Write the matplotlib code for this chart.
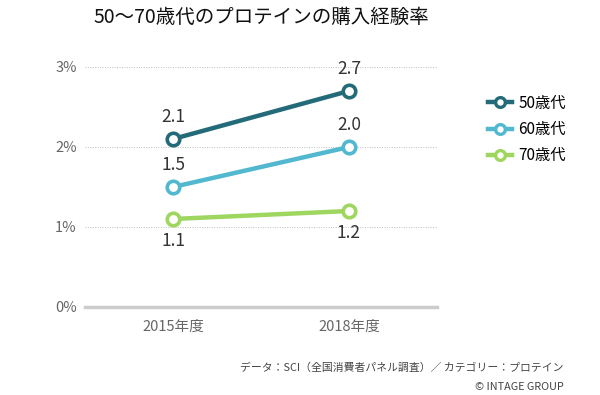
import matplotlib.pyplot as plt
from matplotlib.lines import Line2D

plt.rcParams['font.family'] = ['Noto Sans CJK JP', 'DejaVu Sans']

years = ['2015年度', '2018年度']
series_names = ['50歳代', '60歳代', '70歳代']
rate_50s = [2.1, 2.7]
rate_60s = [1.5, 2.0]
rate_70s = [1.1, 1.2]
colors = ['#236b78', '#52b8d0', '#9ed660']

fig = plt.figure(figsize=(6, 3.95), dpi=100)
ax = fig.add_axes([0.1417, 0.2228, 0.5866, 0.6076])

x = [0, 1]
all_rates = [rate_50s, rate_60s, rate_70s]
for name, vals, c in zip(series_names, all_rates, colors):
    ax.plot(x, vals, color=c, lw=3.2, marker='o', ms=9, mfc='white',
            mec=c, mew=2.6, zorder=3, label=name)

# value labels: above for 50s/60s, below for 70s
for vals, above in [(rate_50s, True), (rate_60s, True), (rate_70s, False)]:
    for xi, v in zip(x, vals):
        off = 16 if above else -16
        ax.annotate(f'{v:.1f}', (xi, v), xytext=(0, off), textcoords='offset points',
                    ha='center', va='center', fontsize=12.5, color='#333333')

ax.set_xlim(-0.5, 1.5)
ax.set_ylim(0, 3)
ax.set_yticks([0, 1, 2, 3])
ax.set_yticklabels(['0%', '1%', '2%', '3%'])
ax.set_xticks(x)
ax.set_xticklabels(years)
ax.tick_params(length=0, labelsize=10.5, labelcolor='#666666')
ax.tick_params(axis='x', pad=9)
ax.tick_params(axis='y', pad=6)
for s in ['top', 'right', 'left']:
    ax.spines[s].set_visible(False)
ax.spines['bottom'].set_color('#cccccc')
ax.spines['bottom'].set_linewidth(2.5)
ax.grid(axis='y', color='#bbbbbb', ls=(0, (1, 1.5)), lw=0.7)
ax.set_axisbelow(True)

handles = [Line2D([], [], color=c, lw=3.2, marker='o', ms=7, mfc='white', mec=c, mew=2.4)
           for c in colors]
fig.legend(handles, series_names, loc='upper left', bbox_to_anchor=(0.79, 0.795),
           frameon=False, fontsize=11, handlelength=1.6, labelspacing=0.6,
           handletextpad=0.4)

fig.text(0.435, 0.955, '50～70歳代のプロテインの購入経験率', ha='center', va='center',
         fontsize=14, color='#111111')
fig.text(0.94, 0.068, 'データ：SCI（全国消費者パネル調査）／ カテゴリー：プロテイン',
         ha='right', va='center', fontsize=7.8, color='#444444')
fig.text(0.94, 0.02, '© INTAGE GROUP', ha='right', va='center', fontsize=7.8,
         color='#444444')

fig.savefig('out.png', dpi=100)
